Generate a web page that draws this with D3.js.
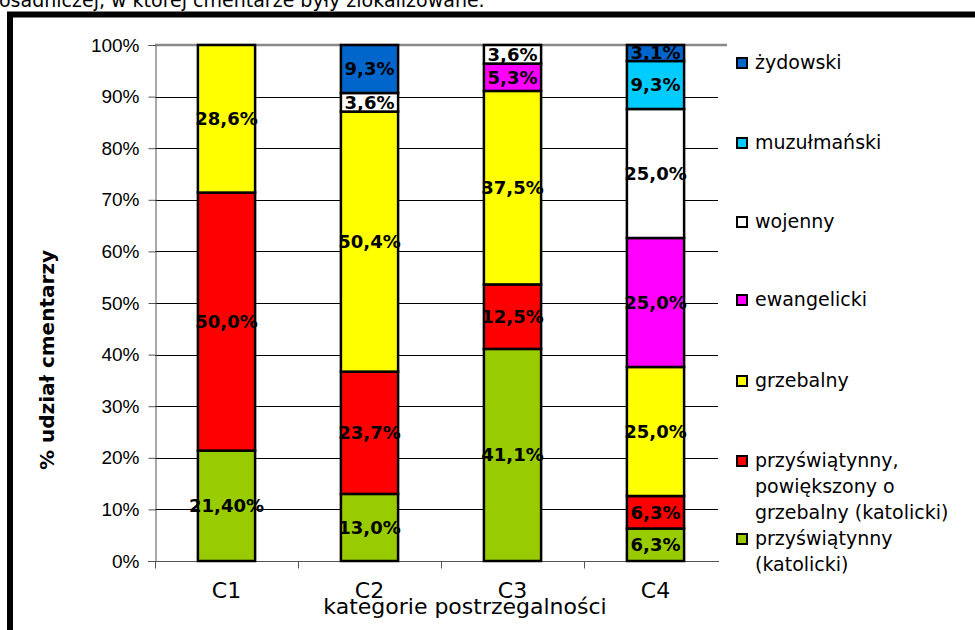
<!DOCTYPE html>
<html><head><meta charset="utf-8">
<script src="https://cdn.jsdelivr.net/npm/d3@7"></script>
<style>
html,body{margin:0;padding:0;background:#fff;overflow:hidden}
svg{display:block;font-family:"Century Gothic","URW Gothic","DejaVu Sans",sans-serif}
</style></head>
<body>
<svg id="chart" width="975" height="630"></svg>
<script>
const categories = ["C1","C2","C3","C4"];
const seriesNames = ["przyświątynny (katolicki)","przyświątynny, powiększony o grzebalny (katolicki)","grzebalny","ewangelicki","wojenny","muzułmański","żydowski"];
const seriesColors = ["#99CC00","#FF0000","#FFFF00","#FF00FF","#FFFFFF","#00CCFF","#0066CC"];
// values per series, order C1..C4
const przyswiatynny = [21.4, 13.0, 41.1, 6.3];
const powiekszony   = [50.0, 23.7, 12.5, 6.3];
const grzebalny     = [28.6, 50.4, 37.5, 25.0];
const ewangelicki   = [0, 0, 5.3, 25.0];
const wojenny       = [0, 3.6, 3.6, 25.0];
const muzulmanski   = [0, 0, 0, 9.3];
const zydowski      = [0, 9.3, 0, 3.1];
const labelOverrides = {"C1|0":"21,40%"};
const yTicks = [0,10,20,30,40,50,60,70,80,90,100];
const legendLines = [["żydowski"],["muzułmański"],["wojenny"],["ewangelicki"],["grzebalny"],["przyświątynny,","powiększony o","grzebalny (katolicki)"],["przyświątynny","(katolicki)"]];

const seriesValues = [przyswiatynny, powiekszony, grzebalny, ewangelicki, wojenny, muzulmanski, zydowski];
const svg = d3.select("#chart");

// heading (cut off at top)
svg.append("text").attr("x",-1).attr("y",7).attr("font-size",19).attr("fill","#000")
  .text("osadniczej, w której cmentarze były zlokalizowane.");

// frame
svg.append("rect").attr("x",10).attr("y",14.5).attr("width",1000).attr("height",700)
  .attr("fill","none").attr("stroke","#000").attr("stroke-width",6);

const x = d3.scaleBand().domain(categories).range([155,727]).paddingInner(0.6).paddingOuter(0.3);
const y = d3.scaleLinear().domain([0,100]).range([561,45]);

// gridlines
svg.append("g").selectAll("line").data(yTicks.filter(t=>t>0&&t<100)).join("line")
  .attr("x1",155).attr("x2",718).attr("y1",d=>Math.round(y(d))+0.5).attr("y2",d=>Math.round(y(d))+0.5)
  .attr("stroke","#000").attr("stroke-width",1);
svg.append("line").attr("x1",155).attr("x2",727).attr("y1",y(100)).attr("y2",y(100))
  .attr("stroke","#888").attr("stroke-width",2.5);

// y axis
const yAxis = svg.append("g").attr("transform","translate(155.5,0)")
  .call(d3.axisLeft(y).tickValues(yTicks).tickFormat(d=>d+"%").tickSize(7).tickPadding(9));
yAxis.select(".domain").attr("stroke","#555");
yAxis.selectAll(".tick line").attr("stroke","#555");
yAxis.selectAll("text").attr("font-size",19).attr("font-family","inherit").attr("fill","#000");

// x axis
const xAxisG = svg.append("g").attr("transform","translate(0,561.5)");
xAxisG.append("line").attr("x1",148).attr("x2",719).attr("stroke","#555");
xAxisG.selectAll("line.t").data(categories).join("line").attr("class","t")
  .attr("x1",(c)=>Math.round(x(c)+x.bandwidth()/2 - x.step()/2)+0.5)
  .attr("x2",(c)=>Math.round(x(c)+x.bandwidth()/2 - x.step()/2)+0.5)
  .attr("y1",0).attr("y2",7).attr("stroke","#555");
xAxisG.selectAll("text").data(categories).join("text")
  .attr("x",c=>x(c)+x.bandwidth()/2).attr("y",36).attr("text-anchor","middle")
  .attr("font-size",22).attr("fill","#000").text(c=>c);

// stacks
const table = categories.map((c,i)=>{const o={cat:c}; seriesNames.forEach((s,j)=>o[s]=seriesValues[j][i]); return o;});
const stack = d3.stack().keys(seriesNames)(table);
const fmt = v => v.toFixed(1).replace(".",",")+"%";
stack.forEach((layer,j)=>{
  const g = svg.append("g");
  layer.forEach((d,i)=>{
    if (d[1]-d[0] <= 0) return;
    const c = categories[i];
    g.append("rect").attr("x",x(c)).attr("width",x.bandwidth())
      .attr("y",y(d[1])).attr("height",y(d[0])-y(d[1]))
      .attr("fill",seriesColors[j]).attr("stroke","#000").attr("stroke-width",2.5);
  });
});
stack.forEach((layer,j)=>{
  layer.forEach((d,i)=>{
    const v = d[1]-d[0];
    if (v <= 0) return;
    const c = categories[i];
    const key = c+"|"+j;
    svg.append("text").attr("x",x(c)+x.bandwidth()/2).attr("y",(y(d[0])+y(d[1]))/2+6.5)
      .attr("text-anchor","middle").attr("font-size",18).attr("font-weight","bold").attr("fill","#000")
      .text(labelOverrides[key] || fmt(seriesValues[j][i]));
  });
});

// axis titles
svg.append("text").attr("transform","translate(54,360) rotate(-90)").attr("text-anchor","middle")
  .attr("font-size",20).attr("font-weight","bold").text("% udział cmentarzy");
svg.append("text").attr("x",465).attr("y",614).attr("text-anchor","middle")
  .attr("font-size",22).text("kategorie postrzegalności");

// legend
const legendTop = [63,143,222,300,381,461,539];
const lg = svg.append("g");
legendLines.forEach((lines,k)=>{
  const j = seriesNames.length-1-k;
  const cy = legendTop[k];
  lg.append("rect").attr("x",737).attr("y",cy-5).attr("width",10).attr("height",10)
    .attr("fill",seriesColors[j]).attr("stroke","#000").attr("stroke-width",2);
  lines.forEach((t,li)=>{
    lg.append("text").attr("x",755).attr("y",cy+6+li*26).attr("font-size",19).attr("fill","#000").text(t);
  });
});
</script>
</body></html>
